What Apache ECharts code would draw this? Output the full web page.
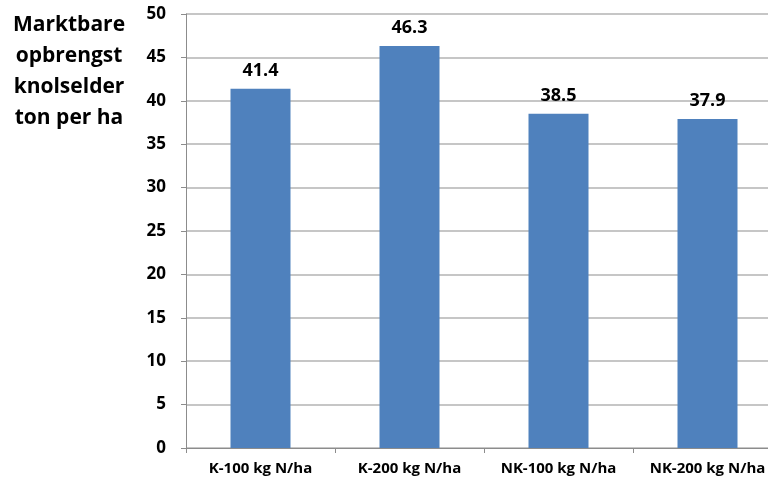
<!DOCTYPE html>
<html><head><meta charset="utf-8">
<script src="https://cdn.jsdelivr.net/npm/echarts@6/dist/echarts.min.js"></script>
<style>html,body{margin:0;padding:0;background:#fff;overflow:hidden}#c{width:782px;height:482px}</style>
</head><body><div id="c"></div>
<script>
const categories = ["K-100 kg N/ha", "K-200 kg N/ha", "NK-100 kg N/ha", "NK-200 kg N/ha"];
const values = [41.4, 46.3, 38.5, 37.9];
const yTitleLines = ["Marktbare", "opbrengst", "knolselder", "ton per ha"];

const chart = echarts.init(document.getElementById('c'));
chart.setOption({
  animation: false,
  grid: { left: 186, top: 14, right: 0, height: 434, containLabel: false },
  graphic: [{
    type: 'text', x: 69, y: 10,
    style: { text: yTitleLines.join('\n'), font: 'bold 21px "Open Sans", sans-serif', lineHeight: 31, fill: '#000', textAlign: 'center' }
  }],
  xAxis: {
    type: 'category', data: categories,
    axisLine: { lineStyle: { color: '#8c8c8c', width: 1 } },
    axisTick: { show: true, length: 5, lineStyle: { color: '#8c8c8c' } },
    axisLabel: { interval: 0, color: '#000', fontWeight: 'bold', fontSize: 15, fontFamily: '"Open Sans", sans-serif', margin: 13 }
  },
  yAxis: {
    type: 'value', min: 0, max: 50, interval: 5,
    axisLine: { show: true, lineStyle: { color: '#8c8c8c', width: 1 } },
    axisTick: { show: true, length: 5, lineStyle: { color: '#8c8c8c' } },
    splitLine: { lineStyle: { color: '#b3b3b3', width: 1.5 } },
    axisLabel: { color: '#000', fontWeight: 'bold', fontSize: 17, fontFamily: '"Open Sans", sans-serif', margin: 20 }
  },
  series: [{
    type: 'bar', data: values, barWidth: 60,
    itemStyle: { color: '#4f81bd' },
    label: { show: true, position: 'top', distance: 9, color: '#000', fontWeight: 'bold', fontSize: 18, fontFamily: '"Open Sans", sans-serif', formatter: p => p.value.toFixed(1) }
  }]
});
</script></body></html>
